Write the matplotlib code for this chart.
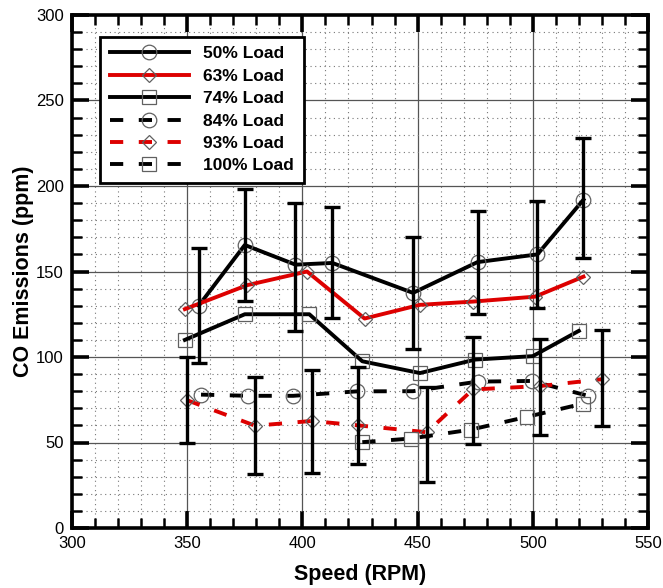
import matplotlib
matplotlib.use("Agg")
import matplotlib.pyplot as plt
from matplotlib.ticker import MultipleLocator

plt.rcParams['font.family'] = ['Liberation Sans', 'DejaVu Sans']

# ---- data ----
x50 = [355, 375, 397, 413, 448, 476, 502, 522]
y50 = [130, 165.5, 154, 155, 137.5, 155.5, 160, 192]
x63 = [349, 376, 402, 427, 451, 474, 501, 522]
y63 = [128, 142, 150, 122.5, 130.5, 132.4, 135.3, 147]
x74 = [349, 375, 403, 426, 451, 475, 500, 520]
y74 = [110, 125, 125, 97.5, 90.6, 98.5, 100.5, 115.3]
x84 = [356, 376.5, 396, 423.6, 448, 476, 499.5, 524]
y84 = [78, 77.3, 77.3, 79.9, 80, 85.6, 86, 77.3]
x93 = [350, 379.5, 404, 424.3, 454, 474, 503, 530]
y93 = [74.7, 59.8, 62.6, 60, 56, 81, 83, 87]
x100 = [426, 447, 473, 497.5, 521.7]
y100 = [50.2, 52.3, 57.5, 65, 72.7]

# error bar ranges (low, high)
err50_lo = [96.6, 132.5, 115, 122.6, 104.7, 125.2, 128.5, 157.7]
err50_hi = [164, 198, 189.8, 188, 170.4, 185.2, 191.3, 227.8]
err93_lo = [50, 31.5, 32, 37.3, 26.9, 49.3, 54.5, 59.4]
err93_hi = [99.8, 88.3, 92.2, 94.1, 82.2, 111.5, 110.7, 116]

labels = ['50% Load', '63% Load', '74% Load', '84% Load', '93% Load', '100% Load']

# ---- figure ----
fig = plt.figure(figsize=(6.63, 5.88), dpi=100)
ax = fig.add_axes([72/663, 1-528/588, (648-72)/663, (528-15)/588])

RED = '#dd0000'
MEC = '#606060'
lw = 2.8
dash = (0, (3.4, 4.0))

series = [
    (x50, y50, 'black', '-', 'o', 10.5),
    (x63, y63, RED, '-', 'D', 7.6),
    (x74, y74, 'black', '-', 's', 9.5),
    (x84, y84, 'black', dash, 'o', 10.5),
    (x93, y93, RED, dash, 'D', 7.6),
    (x100, y100, 'black', dash, 's', 9.5),
]
for (xs, ys, c, ls, m, ms), lab in zip(series, labels):
    ax.plot(xs, ys, color=c, linestyle=ls, linewidth=lw, marker=m,
            markersize=ms, markerfacecolor='none', markeredgecolor=MEC,
            markeredgewidth=0.9, label=lab, zorder=3)

def draw_err(xs, lo, hi):
    mid = [(a + b) / 2 for a, b in zip(lo, hi)]
    lower = [m - a for m, a in zip(mid, lo)]
    upper = [b - m for m, b in zip(mid, hi)]
    ax.errorbar(xs, mid, yerr=[lower, upper], fmt='none', ecolor='black',
                elinewidth=2.4, capsize=6, capthick=2.4, zorder=4)

draw_err(x50, err50_lo, err50_hi)
draw_err(x93, err93_lo, err93_hi)

ax.set_xlim(300, 550)
ax.set_ylim(0, 300)
ax.xaxis.set_major_locator(MultipleLocator(50))
ax.xaxis.set_minor_locator(MultipleLocator(10))
ax.yaxis.set_major_locator(MultipleLocator(50))
ax.yaxis.set_minor_locator(MultipleLocator(10))

ax.grid(which='major', color='#555555', linewidth=0.9, linestyle='-', zorder=0)
ax.grid(which='minor', color='#777777', linewidth=0.8, linestyle=(0, (1, 3.2)), zorder=0)
ax.set_axisbelow(True)

ax.tick_params(which='both', direction='in', top=True, right=True)
ax.tick_params(which='major', length=12, width=2.6, labelsize=12, pad=6)
ax.tick_params(which='minor', length=7, width=1.8)
for s in ax.spines.values():
    s.set_linewidth(2.6)

ax.set_xlabel('Speed (RPM)', fontsize=15.5, fontweight='bold', labelpad=9)
ax.set_ylabel('CO Emissions (ppm)', fontsize=15.5, fontweight='bold', labelpad=1)

leg = ax.legend(loc='upper left', bbox_to_anchor=(0.0486, 0.958), borderaxespad=0,
                prop={'weight': 'bold', 'size': 12.5}, handlelength=4.6,
                handletextpad=0.8, labelspacing=0.42, borderpad=0.55,
                fancybox=False, framealpha=1, edgecolor='black')
leg.get_frame().set_linewidth(2.0)
leg.set_zorder(10)

fig.savefig('out.png', dpi=100)
